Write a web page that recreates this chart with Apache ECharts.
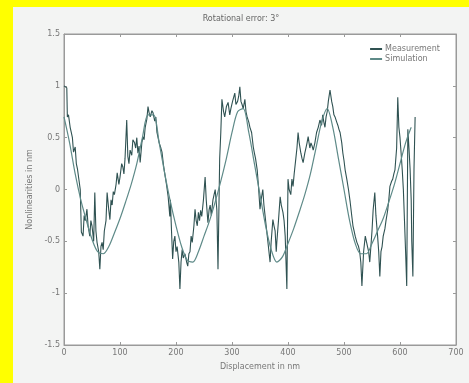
<!DOCTYPE html>
<html>
<head>
<meta charset="utf-8">
<script src="https://cdn.jsdelivr.net/npm/echarts@6/dist/echarts.min.js"></script>
<style>
	html, body { margin: 0; padding: 0; background: #ffff00; }
	#rotChart { position: absolute; left: 13px; top: 7px; width: 456px; height: 376px; background: #f3f4f3; }
</style>
</head>
<body>
<div id="rotChart"></div>
<script>
// measured nonlinearity [displacement nm, value nm]
const measurement = [
	[0,1.0],[3,1.0],[5,0.98],[6,0.7],[8,0.72],[11,0.6],[13,0.55],[15,0.5],[17,0.36],[20,0.41],[22,0.25],[24,0.2],
	[27,0.08],[29,0.0],[31,-0.41],[34,-0.45],[36,-0.25],[38,-0.3],[41,-0.19],[43,-0.35],[46,-0.45],[48,-0.3],
	[50,-0.35],[53,-0.5],[55,-0.03],[57,-0.4],[59,-0.51],[62,-0.6],[64,-0.77],[66,-0.55],[68,-0.51],[70,-0.58],
	[72,-0.4],[75,-0.3],[77,-0.03],[80,-0.2],[82,-0.29],[84,-0.1],[86,-0.15],[88,-0.02],[90,-0.05],[93,0.05],
	[95,0.16],[98,0.05],[100,0.12],[103,0.25],[105,0.22],[107,0.15],[109,0.3],[112,0.67],[114,0.32],[116,0.25],
	[118,0.38],[121,0.33],[123,0.48],[126,0.45],[128,0.4],[130,0.5],[132,0.35],[134,0.42],[136,0.26],[139,0.45],
	[141,0.51],[143,0.48],[145,0.6],[148,0.68],[150,0.8],[152,0.74],[154,0.7],[157,0.76],[159,0.74],[162,0.66],
	[164,0.7],[166,0.55],[168,0.5],[170,0.45],[173,0.4],[175,0.36],[178,0.22],[180,0.15],[183,0.05],[186,-0.07],
	[189,-0.26],[190,-0.1],[192,-0.4],[194,-0.67],[196,-0.5],[198,-0.45],[200,-0.6],[202,-0.55],[205,-0.7],
	[207,-0.96],[209,-0.7],[211,-0.58],[213,-0.66],[216,-0.62],[219,-0.7],[221,-0.74],[223,-0.62],[225,-0.6],
	[227,-0.45],[229,-0.51],[232,-0.35],[234,-0.19],[236,-0.3],[238,-0.35],[240,-0.22],[242,-0.3],[244,-0.2],
	[246,-0.26],[249,-0.1],[252,0.12],[254,-0.1],[257,-0.32],[259,-0.2],[261,-0.15],[263,-0.25],[266,-0.1],
	[268,-0.05],[270,0.0],[273,-0.2],[275,-0.77],[278,0.3],[280,0.55],[282,0.87],[285,0.75],[287,0.7],[290,0.8],
	[293,0.84],[296,0.72],[298,0.78],[301,0.85],[305,0.93],[307,0.82],[310,0.85],[312,0.9],[314,0.99],[316,0.85],
	[318,0.82],[320,0.78],[323,0.87],[325,0.75],[327,0.7],[330,0.65],[332,0.6],[335,0.55],[338,0.41],[340,0.35],
	[342,0.3],[345,0.19],[347,0.05],[350,-0.19],[352,-0.1],[355,0.0],[357,-0.15],[359,-0.25],[361,-0.35],
	[363,-0.45],[365,-0.55],[368,-0.7],[370,-0.5],[373,-0.29],[375,-0.35],[377,-0.4],[379,-0.6],[380,-0.51],
	[383,-0.3],[386,-0.07],[388,-0.15],[391,-0.22],[393,-0.3],[395,-0.45],[398,-0.96],[400,0.1],[402,0.0],
	[405,-0.05],[407,0.1],[409,0.03],[411,0.15],[414,0.3],[416,0.4],[418,0.55],[420,0.45],[423,0.35],[425,0.3],
	[427,0.26],[430,0.35],[432,0.4],[434,0.45],[436,0.51],[439,0.4],[441,0.45],[443,0.42],[445,0.38],[448,0.45],
	[451,0.55],[454,0.6],[457,0.67],[460,0.62],[462,0.72],[464,0.65],[466,0.6],[468,0.7],[470,0.75],[472,0.85],
	[475,0.96],[478,0.85],[480,0.8],[482,0.72],[484,0.7],[487,0.65],[489,0.62],[491,0.58],[493,0.55],[496,0.45],
	[498,0.35],[500,0.28],[502,0.19],[505,0.1],[508,0.0],[511,-0.12],[514,-0.26],[516,-0.35],[518,-0.4],
	[520,-0.45],[523,-0.51],[526,-0.55],[528,-0.6],[530,-0.7],[532,-0.93],[535,-0.6],[538,-0.45],[540,-0.5],
	[542,-0.55],[544,-0.6],[546,-0.7],[548,-0.55],[550,-0.4],[552,-0.2],[555,-0.03],[557,-0.25],[560,-0.45],
	[562,-0.6],[564,-0.84],[566,-0.6],[568,-0.55],[570,-0.45],[573,-0.38],[575,-0.3],[578,-0.2],[580,-0.1],
	[582,0.03],[585,0.08],[587,0.1],[589,0.15],[591,0.19],[594,0.4],[596,0.89],[598,0.6],[600,0.5],[602,0.35],
	[604,0.19],[606,0.0],[608,-0.3],[610,-0.6],[612,-0.93],[614,0.58],[616,0.4],[618,0.2],[620,-0.1],[621,-0.5],
	[623,-0.84],[625,0.2],[627,0.7]
];
// simulated nonlinearity, every 10 nm
const simX = [0,10,20,30,40,50,60,70,80,90,100,110,120,130,140,150,160,170,180,190,200,210,220,230,240,250,260,270,280,290,300,310,320,330,340,350,360,370,380,390,400,410,420,430,440,450,460,470,480,490,500,510,520,530,540,550,560,570,580,590,600,610,620];
const simY = [0.7,0.45,0.15,-0.1,-0.3,-0.48,-0.6,-0.62,-0.55,-0.42,-0.28,-0.12,0.05,0.25,0.5,0.72,0.72,0.45,0.15,-0.12,-0.35,-0.55,-0.68,-0.7,-0.6,-0.45,-0.3,-0.12,0.08,0.3,0.55,0.75,0.78,0.55,0.25,-0.05,-0.35,-0.58,-0.7,-0.65,-0.52,-0.38,-0.22,-0.05,0.15,0.4,0.65,0.78,0.6,0.3,0.0,-0.3,-0.52,-0.62,-0.62,-0.52,-0.4,-0.28,-0.12,0.05,0.25,0.45,0.6];
const xTicks = [0, 100, 200, 300, 400, 500, 600, 700];
const yTicks = [-1.5, -1, -0.5, 0, 0.5, 1, 1.5];

const simulation = simX.map((x, i) => [x, simY[i]]);

const myChart = echarts.init(document.getElementById('rotChart'));
const labelStyle = { fontSize: 8, color: '#777', fontFamily: 'DejaVu Sans' };
const lineCol = '#9a9a9a';
const option = {
	animation: false,
	title: {
		text: 'Rotational error: 3°',
		left: 'center',
		top: 3,
		textStyle: { fontSize: 8, fontWeight: 'normal', color: '#666', fontFamily: 'DejaVu Sans' }
	},
	legend: {
		right: 24,
		top: 33,
		orient: 'vertical',
		itemWidth: 12,
		itemHeight: 2,
		itemGap: 2,
		icon: 'rect',
		textStyle: { fontSize: 8, color: '#777', fontFamily: 'DejaVu Sans', padding: [0, 0, 0, -2] },
		data: ['Measurement', 'Simulation']
	},
	grid: {
		show: true,
		left: 51, right: 13, top: 27, bottom: 38,
		backgroundColor: '#ffffff',
		borderColor: lineCol,
		borderWidth: 1
	},
	xAxis: [{
		type: 'value',
		min: xTicks[0], max: xTicks[xTicks.length - 1], interval: 100,
		name: 'Displacement in nm',
		nameLocation: 'middle',
		nameGap: 18,
		nameTextStyle: { fontSize: 8, color: '#777', fontFamily: 'DejaVu Sans' },
		axisLine: { onZero: false, lineStyle: { color: lineCol } },
		axisTick: { inside: true, length: 3, lineStyle: { color: lineCol } },
		axisLabel: Object.assign({ margin: 4 }, labelStyle),
		splitLine: { show: false }
	}, {
		type: 'value', position: 'top',
		min: xTicks[0], max: xTicks[xTicks.length - 1], interval: 100,
		axisLine: { onZero: false, lineStyle: { color: lineCol } },
		axisTick: { inside: true, length: 3, lineStyle: { color: lineCol } },
		axisLabel: { show: false },
		splitLine: { show: false }
	}],
	yAxis: [{
		type: 'value',
		min: yTicks[0], max: yTicks[yTicks.length - 1], interval: 0.5,
		name: 'Nonlinearities in nm',
		nameLocation: 'middle',
		nameGap: 22,
		nameTextStyle: { fontSize: 8, color: '#777', fontFamily: 'DejaVu Sans' },
		axisLine: { show: true, onZero: false, lineStyle: { color: lineCol } },
		axisTick: { show: true, inside: true, length: 3, lineStyle: { color: lineCol } },
		axisLabel: Object.assign({ margin: 4 }, labelStyle),
		splitLine: { show: false }
	}, {
		type: 'value', position: 'right',
		min: yTicks[0], max: yTicks[yTicks.length - 1], interval: 0.5,
		axisLine: { show: true, onZero: false, lineStyle: { color: lineCol } },
		axisTick: { show: true, inside: true, length: 3, lineStyle: { color: lineCol } },
		axisLabel: { show: false },
		splitLine: { show: false }
	}],
	series: [
		{
			name: 'Measurement',
			type: 'line',
			data: measurement,
			symbol: 'none',
			color: '#2f5252',
			lineStyle: { width: 1.1, color: '#2f5252' }
		},
		{
			name: 'Simulation',
			type: 'line',
			data: simulation,
			symbol: 'none',
			smooth: 0.3,
			color: '#5e8a88',
			lineStyle: { width: 1.2, color: '#5e8a88' }
		}
	]
};
myChart.setOption(option);
</script>
</body>
</html>
